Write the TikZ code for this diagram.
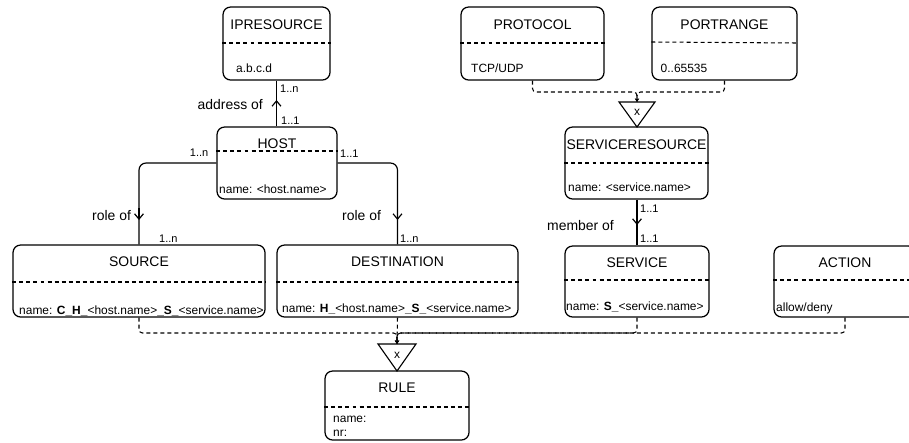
\documentclass[tikz,border=0pt]{standalone}
\usepackage{fontspec}
\setmainfont{Liberation Sans}
\usetikzlibrary{arrows.meta,fit}

\tikzset{
  entity/.style={draw, line width=1.05pt, rounded corners=6.5pt, inner sep=0pt},
  sep/.style={line width=0.9pt, dash pattern=on 3.4pt off 2.6pt},
  ttl/.style={font=\fontsize{11.9}{13}\selectfont, inner sep=0pt, anchor=base},
  attr/.style={font=\fontsize{10.2}{12}\selectfont, inner sep=0pt, anchor=base west},
  mult/.style={font=\fontsize{9.4}{11}\selectfont, inner sep=0pt, anchor=base west},
  rolelbl/.style={font=\fontsize{11.9}{13}\selectfont, inner sep=0pt, anchor=base west},
  rel/.style={line width=1pt},
  relarrow/.style={rel, -{Straight Barb[length=4.5pt,width=7.5pt]}},
  dconn/.style={line width=0.9pt, dash pattern=on 3.4pt off 2.6pt, rounded corners=3pt,
                -{Stealth[length=3pt,width=3.5pt]}},
  prod/.style={line width=0.95pt, line join=miter},
  prodlbl/.style={font=\fontsize{10.2}{12}\selectfont, inner sep=0pt, anchor=base},
}

\begin{document}
\begin{tikzpicture}[x=0.03cm, y=-0.03cm]
\useasboundingbox (0,0) rectangle (909,442);
\clip (0,0) rectangle (909,442);

% ---------- entities ----------
\node[entity, fit={(223,7) (330,80)}] (ip) {};
\node[ttl] at (ip.center |- 0,29.5) {IPRESOURCE};
\draw[sep] (ip.west |- 0,43) -- (ip.east |- 0,43);
\node[attr] at (236,72.7) {a.b.c.d};

\node[entity, fit={(461,7) (604,80)}] (proto) {};
\node[ttl] at (proto.center |- 0,29.5) {PROTOCOL};
\draw[sep] (proto.west |- 0,43) -- (proto.east |- 0,43);
\node[attr] at (471,72.5) {TCP/UDP};

\node[entity, fit={(652,7) (797,80)}] (port) {};
\node[ttl] at (port.center |- 0,29.5) {PORTRANGE};
\draw[sep] (port.west |- 0,42) -- (port.east |- 0,43);
\node[attr] at (660.5,72.5) {0..65535};

\node[entity, fit={(217,127) (337,199)}] (host) {};
\node[ttl] at (host.center |- 0,148) {HOST};
\draw[sep] (host.west |- 0,151) -- (host.east |- 0,151);
\node[attr] at (219,193) {name: <host.name>};

\node[entity, fit={(565,127) (708,199)}] (sres) {};
\node[ttl] at (sres.center |- 0,149) {SERVICERESOURCE};
\draw[sep] (sres.west |- 0,163) -- (sres.east |- 0,163);
\node[attr] at (568,191.5) {name: <service.name>};

\node[entity, fit={(13,245) (265,317)}] (src) {};
\node[ttl] at (src.center |- 0,266.7) {SOURCE};
\draw[sep] (src.west |- 0,282) -- (src.east |- 0,282);
\node[attr] at (19,314) {name: \textbf{C\_H\_}<host.name>\textbf{\_S\_}<service.name>};

\node[entity, fit={(277,245) (518,317)}] (dst) {};
\node[ttl] at (dst.center |- 0,266.7) {DESTINATION};
\draw[sep] (dst.west |- 0,282) -- (dst.east |- 0,282);
\node[attr] at (282,312.7) {name: \textbf{H\_}<host.name>\textbf{\_S\_}<service.name>};

\node[entity, fit={(565,246) (709,317)}] (svc) {};
\node[ttl] at (svc.center |- 0,267) {SERVICE};
\draw[sep] (svc.west |- 0,280) -- (svc.east |- 0,280);
\node[attr] at (566,310) {name: \textbf{S\_}<service.name>};

\node[entity, fit={(774,246) (916,317)}] (act) {};
\node[ttl] at (act.center |- 0,267) {ACTION};
\draw[sep] (act.west |- 0,280) -- (act.east |- 0,280);
\node[attr] at (776,311) {allow/deny};

\node[entity, fit={(325,371) (469,440)}] (rule) {};
\node[ttl] at (rule.center |- 0,392.3) {RULE};
\draw[sep] (rule.west |- 0,407) -- (rule.east |- 0,407);
\node[attr] at (333,422.7) {name:};
\node[attr] at (333,436.5) {nr:};

% ---------- product (x) markers ----------
\coordinate (tt) at (637,102);
\draw[prod] (619,102) -- (655,102) -- (637,127) -- cycle;
\node[prodlbl] (xt) at (637,115) {x};

\coordinate (tb) at (397,344);
\draw[prod] (378,344) -- (416,344) -- (397,371) -- cycle;
\node[prodlbl] (xb) at (397,358) {x};

% ---------- relations (line plus a direction mark partway) ----------
\coordinate (ipA) at (ip.south |- 0,100);
\coordinate (ipB) at (ip.south |- 0,112);
\draw[rel] (host.north -| ipA) -- (ip.south);
\draw[relarrow] (ipB) -- (ipA);
\node[rolelbl, anchor=base east] at (263,109) {address of};
\node[mult] at (280,92.3) {1..n};
\node[mult] at (281,124) {1..1};

\coordinate (srcA) at (src.north |- 0,220);
\coordinate (srcB) at (src.north |- 0,208);
\draw[rel, rounded corners=6pt] (host.west) -| (src.north);
\draw[relarrow] (srcB) -- (srcA);
\node[rolelbl] at (92,220.5) {role of};
\node[mult, anchor=base east] at (208.5,156.7) {1..n};
\node[mult] at (159,242.3) {1..n};

\coordinate (dstA) at (dst.north |- 0,220);
\coordinate (dstB) at (dst.north |- 0,208);
\draw[rel, rounded corners=6pt] (host.east) -| (dst.north);
\draw[relarrow] (dstB) -- (dstA);
\node[rolelbl] at (342,220.5) {role of};
\node[mult] at (340,157) {1..1};
\node[mult] at (400,242) {1..n};

\coordinate (svcA) at (svc.north |- 0,225);
\coordinate (svcB) at (svc.north |- 0,213);
\draw[rel] (sres.south -| svcA) -- (svc.north);
\draw[relarrow] (svcB) -- (svcA);
\node[rolelbl] at (547,230) {member of};
\node[mult] at (640,212) {1..1};
\node[mult] at (640,242) {1..1};

% ---------- dashed product inputs ----------
\coordinate (jt) at (637,92);
\draw[dconn] (proto.south) |- (jt) -- (tt);
\draw[dconn] (port.south) |- (jt) -- (tt);

\coordinate (jb) at (397,333);
\draw[dconn] (src.south) |- (jb) -- (tb);
\draw[dconn] (dst.south) -- (tb);
\draw[dconn] (svc.south) |- (jb) -- (tb);
\draw[dconn] (act.south) |- (jb) -- (tb);
\end{tikzpicture}
\end{document}
